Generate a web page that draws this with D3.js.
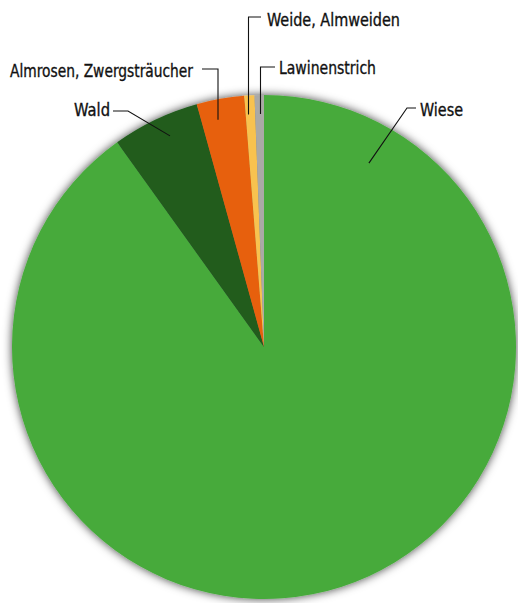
<!DOCTYPE html>
<html>
<head>
<meta charset="utf-8">
<script src="https://cdn.jsdelivr.net/npm/d3@7"></script>
<style>
  html, body { margin: 0; padding: 0; background: #fff; }
  svg { display: block; }
  .label { font-family: "DejaVu Sans Condensed", "Liberation Sans Narrow", "Roboto", sans-serif; font-size: 18.5px; fill: #111; stroke: #111; stroke-width: 0.35px; }
  .leader { fill: none; stroke: #111; stroke-width: 1.1; }
</style>
</head>
<body>
<svg id="chart" width="518" height="603"></svg>
<script>
// Land cover shares (percent of area)
const categories = ["Wiese", "Wald", "Almrosen, Zwergsträucher", "Weide, Almweiden", "Lawinenstrich"];
const shares = [90.1, 5.6, 3.05, 0.65, 0.6];
const sliceColors = ["#46aa3b", "#205b1d", "#e7610d", "#f8c24f", "#aaa9a6"];

// Label placement: text anchor point, leader elbow, and where the leader ends inside its slice
const labelLayout = [
  { x: 420, y: 116, anchor: "start", width: 43,  elbow: [[416, 108], [407, 108]], endAngle: 29.7, endFrac: 0.84 },
  { x: 110, y: 116, anchor: "end",   width: 36,  elbow: [[113, 111], [128, 111]], endAngle: -24,  endFrac: 0.917 },
  { x: 193, y: 77,  anchor: "end",   width: 183, elbow: [[202, 69], [218, 69]],   vertical: true, endFrac: 0.92 },
  { x: 267, y: 26,  anchor: "start", width: 133, elbow: [[261, 17], [248.5, 17]], vertical: true, endFrac: 0.925 },
  { x: 279, y: 74,  anchor: "start", width: 97,  elbow: [[275, 67], [260.5, 67]], vertical: true, endFrac: 0.925 }
];

const svg = d3.select("#chart");
const cx = 264, cy = 347, radius = 252;

// soft shadow around the disc
const defs = svg.append("defs");
const f = defs.append("filter").attr("id", "shadow")
  .attr("x", "-10%").attr("y", "-10%").attr("width", "120%").attr("height", "120%");
f.append("feGaussianBlur").attr("in", "SourceAlpha").attr("stdDeviation", 5).attr("result", "blur");
f.append("feFlood").attr("flood-color", "#000").attr("flood-opacity", 0.75).attr("result", "col");
f.append("feComposite").attr("in", "col").attr("in2", "blur").attr("operator", "in").attr("result", "sh");
const merge = f.append("feMerge");
merge.append("feMergeNode").attr("in", "sh");
merge.append("feMergeNode").attr("in", "SourceGraphic");

const pie = d3.pie().sort(null).value(d => d)(shares);
const arc = d3.arc().innerRadius(0).outerRadius(radius);
const color = d3.scaleOrdinal().domain(categories).range(sliceColors);

const g = svg.append("g").attr("transform", `translate(${cx},${cy})`);
g.append("g").attr("filter", "url(#shadow)")
  .selectAll("path")
  .data(pie)
  .join("path")
  .attr("d", arc)
  .attr("fill", (d, i) => color(categories[i]));

// leader lines
const line = d3.line();
labelLayout.forEach((L, i) => {
  const pts = L.elbow.slice();
  let end;
  if (L.vertical) {
    const ex = L.elbow[1][0] - cx;
    const rr = radius * L.endFrac;
    end = [L.elbow[1][0], cy - Math.sqrt(rr * rr - ex * ex)];
  } else {
    const a = L.endAngle * Math.PI / 180;
    const rr = radius * L.endFrac;
    end = [cx + rr * Math.sin(a), cy - rr * Math.cos(a)];
  }
  pts.push(end);
  svg.append("path").attr("class", "leader").attr("d", line(pts));
  svg.append("text").attr("class", "label")
    .attr("x", L.x).attr("y", L.y)
    .attr("text-anchor", L.anchor)
    .attr("textLength", L.width)
    .attr("lengthAdjust", "spacingAndGlyphs")
    .text(categories[i]);
});
</script>
</body>
</html>
